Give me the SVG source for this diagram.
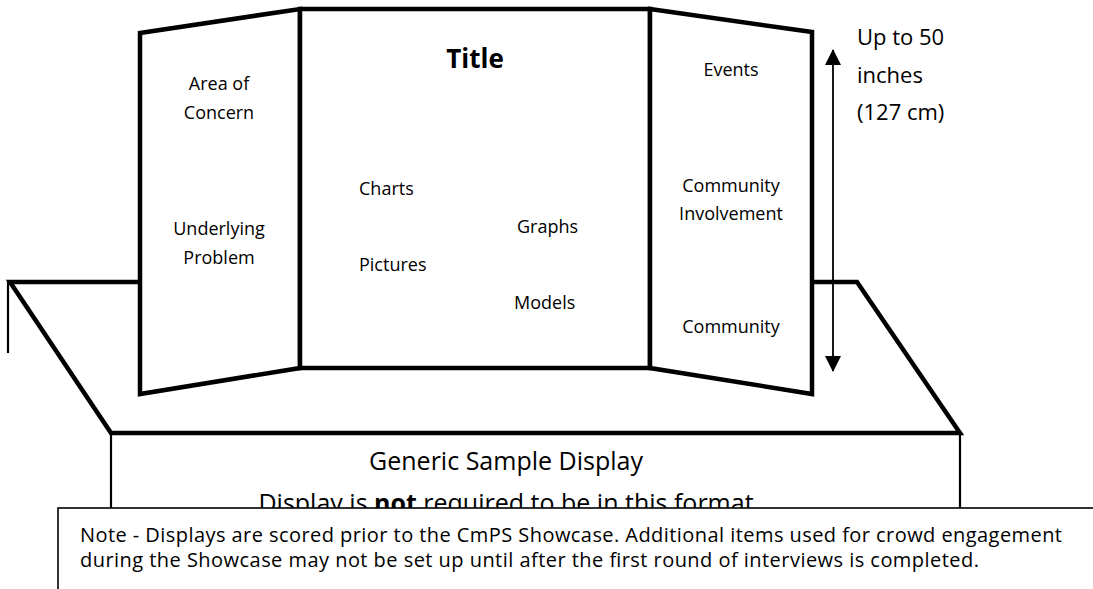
<svg xmlns="http://www.w3.org/2000/svg" width="1093" height="589" viewBox="0 0 1093 589">
<style>
.thick{fill:none;stroke:#000;stroke-width:4.5;stroke-linejoin:miter}
.thin{fill:none;stroke:#000;stroke-width:2.2}
.panel{fill:#fff;stroke:#000;stroke-width:4.5;stroke-linejoin:miter}
.lbl{font-family:"Open Sans","Liberation Sans",sans-serif;font-size:18px;fill:#000;text-anchor:middle}
.lbs{font-family:"Open Sans","Liberation Sans",sans-serif;font-size:18px;fill:#000}
.big{font-family:"Open Sans","Liberation Sans",sans-serif;font-size:25px;fill:#000;text-anchor:middle}
.dim{font-family:"Open Sans","Liberation Sans",sans-serif;font-size:22px;fill:#000}
.note{font-family:"Open Sans","Liberation Sans",sans-serif;font-size:20px;fill:#000}
</style>
<defs>
<marker id="ah" viewBox="0 0 16 16" refX="15" refY="8" markerWidth="16" markerHeight="16" markerUnits="userSpaceOnUse" orient="auto-start-reverse">
<path d="M0,0 L16,8 L0,16 Z" fill="#000"/>
</marker>
</defs>
<rect width="1093" height="589" fill="#fff"/>
<g id="table">
<polyline class="thick" points="140,282 10,282 111,433 960,433 857,282 812,282"/>
<line class="thin" x1="8" y1="281" x2="8" y2="353"/>
<line class="thin" x1="111" y1="433" x2="111" y2="510"/>
<line class="thin" x1="960" y1="433" x2="960" y2="510"/>
<text class="big" x="506" y="470">Generic Sample Display</text>
<text class="big" x="506" y="512">Display is <tspan font-weight="bold">not</tspan> required to be in this format</text>
</g>
<g id="left-panel">
<polygon class="panel" points="140,33 300,9 300,368 140,394"/>
<text class="lbl" x="219" y="90">Area of</text>
<text class="lbl" x="219" y="119">Concern</text>
<text class="lbl" x="219" y="235">Underlying</text>
<text class="lbl" x="219" y="264">Problem</text>
</g>
<g id="center-panel">
<rect class="panel" x="300" y="9" width="350" height="359"/>
<text x="475" y="68" font-family="Open Sans, Liberation Sans, sans-serif" font-size="26" font-weight="bold" text-anchor="middle">Title</text>
<text class="lbs" x="359" y="195">Charts</text>
<text class="lbs" x="517" y="233">Graphs</text>
<text class="lbs" x="359" y="271">Pictures</text>
<text class="lbs" x="514" y="309">Models</text>
</g>
<g id="right-panel">
<polygon class="panel" points="650,9 812,32 812,394 650,368"/>
<text class="lbl" x="731" y="76">Events</text>
<text class="lbl" x="731" y="192">Community</text>
<text class="lbl" x="731" y="220">Involvement</text>
<text class="lbl" x="731" y="333">Community</text>
</g>
<g id="connectors">
<line x1="833" y1="50" x2="833" y2="371" stroke="#000" stroke-width="1.8" marker-start="url(#ah)" marker-end="url(#ah)"/>
</g>
<g id="height-label">
<text class="dim" x="857" y="45">Up to 50</text>
<text class="dim" x="857" y="83">inches</text>
<text class="dim" x="857" y="120">(127 cm)</text>
</g>
<g id="note">
<rect x="58" y="508" width="1050" height="100" fill="#fff" stroke="#000" stroke-width="1.6"/>
<text class="note" x="80" y="542" textLength="982" lengthAdjust="spacing">Note - Displays are scored prior to the CmPS Showcase. Additional items used for crowd engagement</text>
<text class="note" x="80" y="567" textLength="899" lengthAdjust="spacing">during the Showcase may not be set up until after the first round of interviews is completed.</text>
</g>
</svg>
